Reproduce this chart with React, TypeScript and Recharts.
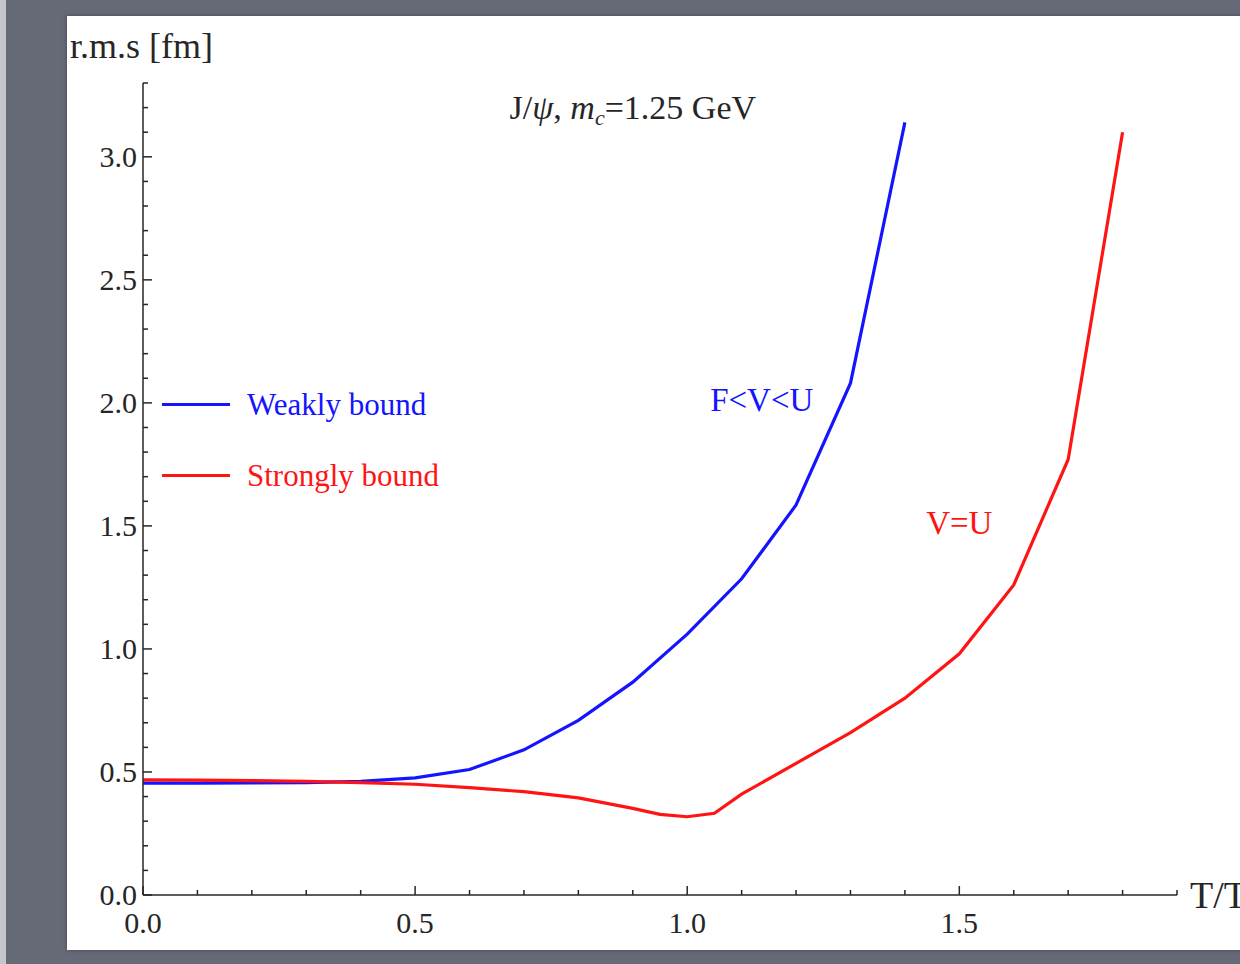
import React from "react";
import { LineChart, Line, XAxis, YAxis, Legend, ReferenceDot, Label } from "recharts";

// temperature T/Tc and rms radius (fm) for the two potentials
const tWeak = [0, 0.1, 0.2, 0.3, 0.4, 0.5, 0.6, 0.7, 0.8, 0.9, 1.0, 1.1, 1.2, 1.3, 1.4];
const rmsWeak = [0.455, 0.455, 0.456, 0.457, 0.462, 0.476, 0.51, 0.59, 0.71, 0.865, 1.06, 1.285, 1.585, 2.08, 3.14];

const tStrong = [0, 0.1, 0.2, 0.3, 0.4, 0.5, 0.6, 0.7, 0.8, 0.9, 0.95, 1.0, 1.05, 1.1, 1.2, 1.3, 1.4, 1.5, 1.6, 1.7, 1.8];
const rmsStrong = [0.468, 0.467, 0.465, 0.462, 0.457, 0.45, 0.436, 0.42, 0.395, 0.352, 0.328, 0.318, 0.332, 0.41, 0.535, 0.66, 0.8, 0.98, 1.26, 1.77, 3.1];

const seriesNames = ["Weakly bound", "Strongly bound"];

const xTicks = [0, 0.1, 0.2, 0.3, 0.4, 0.5, 0.6, 0.7, 0.8, 0.9, 1.0, 1.1, 1.2, 1.3, 1.4, 1.5, 1.6, 1.7, 1.8, 1.9];
const xLabeled = [0, 0.5, 1.0, 1.5];
const yTicks = [0, 0.1, 0.2, 0.3, 0.4, 0.5, 0.6, 0.7, 0.8, 0.9, 1.0, 1.1, 1.2, 1.3, 1.4, 1.5, 1.6, 1.7, 1.8, 1.9, 2.0, 2.1, 2.2, 2.3, 2.4, 2.5, 2.6, 2.7, 2.8, 2.9, 3.0, 3.1, 3.2, 3.3];
const yLabeled = [0, 0.5, 1.0, 1.5, 2.0, 2.5, 3.0];

const weakData = tWeak.map((t, i) => ({ t, rms: rmsWeak[i] }));
const strongData = tStrong.map((t, i) => ({ t, rms: rmsStrong[i] }));

const FONT = '"Liberation Serif", "Times New Roman", serif';
const INK = "#262626";
const BLUE = "#1414ff";
const RED = "#ff1414";

const isLabeled = (list: number[], v: number) => list.some((m) => Math.abs(m - v) < 1e-9);

// ticks point inward, labels sit outside the frame
const XTick = (props: any) => {
  const { x, y, payload } = props;
  const major = isLabeled(xLabeled, payload.value);
  return (
    <g>
      <line x1={x} x2={x} y1={y} y2={y - (major ? 9 : 5)} stroke={INK} strokeWidth={1.5} />
      {major && (
        <text x={x} y={y + 38} textAnchor="middle" fontFamily={FONT} fontSize={30} fill={INK}>
          {payload.value.toFixed(1)}
        </text>
      )}
    </g>
  );
};

const YTick = (props: any) => {
  const { x, y, payload } = props;
  const major = isLabeled(yLabeled, payload.value);
  return (
    <g>
      <line x1={x} x2={x + (major ? 9 : 5)} y1={y} y2={y} stroke={INK} strokeWidth={1.5} />
      {major && (
        <text x={x - 6} y={y + 10} textAnchor="end" fontFamily={FONT} fontSize={30} fill={INK}>
          {payload.value.toFixed(1)}
        </text>
      )}
    </g>
  );
};

const LegendBox = (props: any) => {
  const items = [...(props.payload || [])].sort(
    (a: any, b: any) => seriesNames.indexOf(a.value) - seriesNames.indexOf(b.value)
  );
  return (
    <div style={{ fontFamily: FONT }}>
      {items.map((entry: any) => (
        <div key={entry.value} style={{ display: "flex", alignItems: "center", height: 71 }}>
          <div style={{ width: 68, height: 3, background: entry.color, marginRight: 17 }} />
          <span style={{ color: entry.color, fontSize: 31 }}>{entry.value}</span>
        </div>
      ))}
    </div>
  );
};

const textAt = (content: React.ReactNode, color: string, size: number) => (p: any) => (
  <text x={p.cx} y={p.cy + size * 0.33} textAnchor="middle" fontFamily={FONT} fontSize={size} fill={color}>
    {content}
  </text>
);

export default function App() {
  return (
    <div style={{ position: "absolute", left: 0, top: 0, width: 1240, height: 964, background: "#666a77", overflow: "hidden" }}>
      <div style={{ position: "absolute", left: 0, top: 0, width: 6, height: 964, background: "#c4c6cb" }} />
      <div
        style={{
          position: "absolute",
          left: 67,
          top: 16,
          width: 1200,
          height: 934,
          background: "#ffffff",
          boxShadow: "0 0 4px rgba(0,0,0,0.35)",
        }}
      />
      <div style={{ position: "absolute", left: 0, top: 0 }}>
        <LineChart width={1240} height={964} margin={{ top: 83, right: 63, bottom: 19, left: 73 }}>
          <XAxis
            type="number"
            dataKey="t"
            domain={[0, 1.9]}
            ticks={xTicks}
            interval={0}
            allowDataOverflow
            height={50}
            tickSize={0}
            tickMargin={0}
            tickLine={false}
            axisLine={{ stroke: INK, strokeWidth: 1.5 }}
            tick={(p: any) => <XTick {...p} />}
          >
            <Label
              content={(p: any) => (
                <text
                  x={p.viewBox.x + p.viewBox.width + 13}
                  y={p.viewBox.y + 13}
                  fontFamily={FONT}
                  fontSize={38}
                  fill={INK}
                >
                  T/T<tspan fontSize={26} dy={6}>c</tspan>
                </text>
              )}
            />
          </XAxis>
          <YAxis
            type="number"
            dataKey="rms"
            domain={[0, 3.3]}
            ticks={yTicks}
            interval={0}
            allowDataOverflow
            width={70}
            tickSize={0}
            tickMargin={0}
            tickLine={false}
            axisLine={{ stroke: INK, strokeWidth: 1.5 }}
            tick={(p: any) => <YTick {...p} />}
          >
            <Label
              content={(p: any) => (
                <text x={p.viewBox.x - 3} y={p.viewBox.y - 25} fontFamily={FONT} fontSize={36} fill={INK}>
                  r.m.s [fm]
                </text>
              )}
            />
          </YAxis>
          <Legend
            layout="vertical"
            align="center"
            verticalAlign="middle"
            wrapperStyle={{ left: 162, top: 369, width: 340 }}
            content={(p: any) => <LegendBox {...p} />}
          />
          <Line
            data={weakData}
            dataKey="rms"
            name={seriesNames[0]}
            type="linear"
            stroke={BLUE}
            strokeWidth={3.2}
            dot={false}
            isAnimationActive={false}
          />
          <Line
            data={strongData}
            dataKey="rms"
            name={seriesNames[1]}
            type="linear"
            stroke={RED}
            strokeWidth={3.2}
            dot={false}
            isAnimationActive={false}
          />
          <ReferenceDot
            x={0.9}
            y={3.2}
            r={0}
            shape={textAt(
              <>
                J/<tspan fontStyle="italic">ψ</tspan>, <tspan fontStyle="italic">m</tspan>
                <tspan fontStyle="italic" fontSize={22} dy={6}>c</tspan>
                <tspan dy={-6}>=1.25 GeV</tspan>
              </>,
              INK,
              34
            )}
          />
          <ReferenceDot x={1.137} y={2.01} r={0} shape={textAt("F<V<U", BLUE, 33)} />
          <ReferenceDot x={1.5} y={1.51} r={0} shape={textAt("V=U", RED, 33)} />
        </LineChart>
      </div>
    </div>
  );
}
